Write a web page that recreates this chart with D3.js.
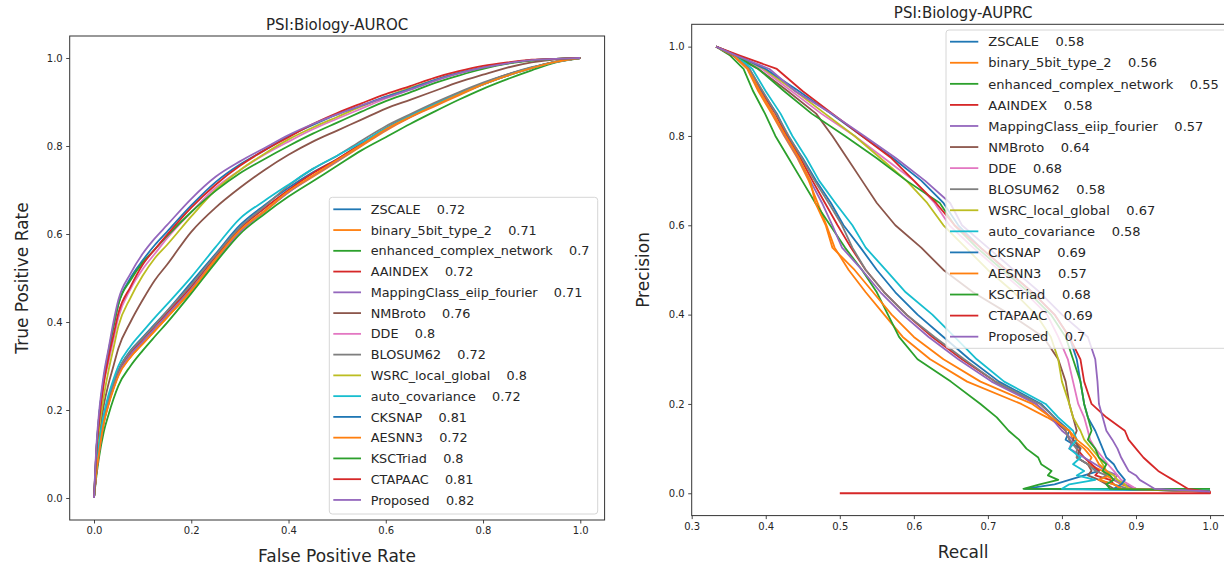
<!DOCTYPE html>
<head>
  <title>PSI:Biology ROC / PR</title>
  <meta charset="utf-8" />
  <script src="https://d3js.org/d3.v7.min.js"></script>
  <style>
    body { margin: 0; background: #fff; }
    text { font-family: "DejaVu Sans", sans-serif; fill: #262626; }
    .leg text { white-space: pre; }
  </style>
</head>
<body>
<script>
  // ---- legend entries ----
  const names = ["ZSCALE", "binary_5bit_type_2", "enhanced_complex_network", "AAINDEX",
    "MappingClass_eiip_fourier", "NMBroto", "DDE", "BLOSUM62", "WSRC_local_global",
    "auto_covariance", "CKSNAP", "AESNN3", "KSCTriad", "CTAPAAC", "Proposed"];
  const rocAuc = ["0.72", "0.71", "0.7", "0.72", "0.71", "0.76", "0.8", "0.72", "0.8",
    "0.72", "0.81", "0.72", "0.8", "0.81", "0.82"];
  const prAuc = ["0.58", "0.56", "0.55", "0.58", "0.57", "0.64", "0.68", "0.58", "0.67",
    "0.58", "0.69", "0.57", "0.68", "0.69", "0.7"];
  const colors = ["#1f77b4", "#ff7f0e", "#2ca02c", "#d62728", "#9467bd", "#8c564b", "#e377c2",
    "#7f7f7f", "#bcbd22", "#17becf", "#1f77b4", "#ff7f0e", "#2ca02c", "#d62728", "#9467bd"];

  // ---- ROC: true positive rate at each false positive rate ----
  const fpr = [0, 0.005, 0.01, 0.02, 0.03, 0.04, 0.05, 0.075, 0.1, 0.125, 0.15, 0.2, 0.25, 0.3,
    0.35, 0.4, 0.45, 0.5, 0.55, 0.6, 0.65, 0.7, 0.75, 0.8, 0.85, 0.9, 0.95, 1.0];
  const tprZSCALE = [0, .06, .11, .18, .225, .26, .29, .335, .365, .395, .425, .49, .555, .62, .665, .705, .74, .77, .805, .84, .87, .895, .92, .942, .962, .978, .992, 1];
  const tprBinary = [0, .06, .10, .17, .215, .25, .28, .32, .35, .38, .41, .47, .54, .605, .65, .695, .73, .765, .8, .835, .865, .89, .915, .94, .96, .977, .991, 1];
  const tprEnhanced = [0, .05, .09, .15, .19, .225, .255, .30, .335, .367, .398, .465, .535, .6, .645, .685, .72, .755, .79, .82, .85, .878, .905, .93, .952, .972, .99, 1];
  const tprAAINDEX = [0, .06, .105, .175, .22, .255, .285, .33, .36, .39, .42, .48, .548, .612, .658, .70, .738, .77, .805, .84, .868, .895, .92, .942, .962, .978, .992, 1];
  const tprMapping = [0, .06, .10, .17, .215, .25, .28, .325, .355, .385, .415, .475, .543, .605, .652, .695, .732, .766, .802, .837, .866, .892, .918, .94, .96, .977, .991, 1];
  const tprNMBroto = [0, .08, .13, .21, .26, .30, .34, .40, .45, .495, .53, .605, .66, .705, .745, .78, .81, .835, .86, .885, .905, .925, .945, .962, .978, .99, .997, 1];
  const tprDDE = [0, .10, .17, .26, .31, .36, .41, .475, .52, .555, .59, .65, .705, .745, .78, .81, .838, .862, .885, .908, .928, .948, .965, .978, .988, .995, .998, 1];
  const tprBLOSUM = [0, .065, .11, .18, .225, .26, .29, .333, .363, .393, .424, .485, .552, .615, .662, .71, .748, .778, .812, .845, .872, .898, .922, .944, .963, .979, .992, 1];
  const tprWSRC = [0, .09, .15, .23, .29, .34, .39, .455, .505, .545, .575, .64, .70, .745, .782, .815, .842, .866, .89, .912, .932, .95, .966, .978, .988, .995, .998, 1];
  const tprAutoCov = [0, .07, .12, .19, .235, .27, .30, .345, .378, .41, .44, .502, .57, .635, .675, .712, .748, .778, .808, .84, .868, .894, .918, .94, .96, .977, .991, 1];
  const tprCKSNAP = [0, .11, .18, .27, .33, .39, .44, .50, .54, .575, .605, .665, .718, .758, .79, .822, .848, .872, .892, .912, .93, .95, .966, .978, .988, .995, .998, 1];
  const tprAESNN3 = [0, .06, .10, .17, .212, .247, .277, .32, .35, .38, .41, .472, .543, .608, .652, .697, .733, .768, .802, .838, .866, .892, .917, .94, .96, .977, .991, 1];
  const tprKSCTriad = [0, .11, .18, .27, .335, .39, .44, .495, .535, .565, .595, .65, .698, .738, .77, .80, .828, .853, .878, .902, .922, .943, .96, .975, .987, .994, .998, 1];
  const tprCTAPAAC = [0, .11, .17, .26, .32, .37, .42, .48, .53, .565, .598, .66, .712, .755, .79, .82, .85, .875, .897, .918, .936, .955, .97, .982, .99, .996, .998, 1];
  const tprProposed = [0, .12, .19, .28, .34, .40, .45, .51, .555, .59, .62, .68, .73, .765, .795, .825, .85, .872, .892, .91, .928, .948, .965, .978, .988, .995, .998, 1];

  // ---- PR: recall reached at each precision level ----
  const precisionLevels = [1.0, 0.98, 0.95, 0.9, 0.85, 0.8, 0.75, 0.7, 0.65, 0.6, 0.55, 0.5, 0.45, 0.4,
    0.35, 0.3, 0.25, 0.2, 0.17, 0.14, 0.12, 0.1, 0.08, 0.065, 0.05, 0.04, 0.03, 0.02, 0.01];
  const recZSCALE = [.333, .358, .378, .395, .415, .43, .45, .468, .488, .505, .528, .55, .575, .605, .64, .675, .715, .772, .79, .81, .805, .825, .82, .835, .85, .83, .81, .79, .75];
  const recBinary = [.333, .356, .375, .39, .408, .425, .443, .458, .47, .482, .493, .512, .535, .56, .585, .622, .672, .745, .78, .81, .815, .83, .84, .835, .855, .86, .87, .88, .9];
  const recEnhanced = [.333, .352, .37, .383, .399, .413, .431, .449, .467, .487, .507, .53, .55, .565, .58, .605, .65, .69, .712, .728, .742, .752, .768, .772, .786, .781, .795, .77, .748];
  const recAAINDEX = [.333, .357, .377, .393, .413, .428, .447, .463, .48, .497, .515, .535, .56, .59, .625, .665, .71, .765, .785, .805, .81, .82, .83, .84, .85, .845, .865, .87, .88];
  const recMapping = [.333, .357, .376, .392, .41, .426, .444, .46, .476, .49, .503, .53, .555, .585, .62, .66, .705, .765, .785, .80, .815, .81, .83, .845, .86, .875, .87, .885, .9];
  const recNMBroto = [.333, .355, .39, .43, .468, .49, .51, .53, .55, .575, .61, .64, .68, .73, .775, .795, .805, .81, .815, .82, .815, .825, .82, .835, .84, .835, .85, .86, .87];
  const recDDE = [.333, .36, .395, .435, .475, .52, .56, .6, .628, .648, .68, .715, .75, .78, .795, .808, .815, .822, .83, .835, .838, .845, .855, .862, .87, .875, .88, .89, .9];
  const recBLOSUM = [.333, .358, .378, .396, .414, .431, .449, .466, .485, .503, .517, .535, .56, .59, .628, .668, .71, .77, .79, .805, .81, .82, .82, .835, .845, .86, .85, .87, .89];
  const recWSRC = [.333, .362, .398, .44, .48, .52, .555, .59, .618, .64, .67, .70, .735, .765, .785, .795, .80, .81, .815, .825, .83, .84, .85, .855, .86, .87, .875, .885, .89];
  const recAutoCov = [.333, .36, .382, .4, .42, .436, .455, .472, .494, .517, .535, .562, .589, .625, .655, .685, .722, .778, .795, .815, .82, .81, .825, .815, .83, .82, .845, .81, .80];
  const recCKSNAP = [.333, .362, .40, .445, .488, .53, .572, .61, .64, .66, .69, .725, .76, .79, .81, .82, .825, .83, .835, .845, .85, .855, .86, .87, .875, .88, .885, .88, .87];
  const recAESNN3 = [.333, .357, .376, .392, .41, .427, .445, .46, .467, .481, .49, .52, .545, .57, .6, .64, .69, .76, .785, .81, .82, .835, .845, .85, .86, .865, .85, .87, .88];
  const recKSCTriad = [.333, .36, .39, .425, .462, .507, .55, .59, .635, .655, .685, .72, .755, .785, .805, .815, .825, .83, .835, .84, .835, .845, .85, .86, .855, .865, .87, .86, .865];
  const recCTAPAAC = [.333, .365, .415, .45, .49, .53, .57, .60, .63, .655, .69, .725, .76, .79, .81, .825, .83, .84, .86, .885, .89, .9, .91, .92, .93, .94, .95, .96, .97];
  const recProposed = [.333, .36, .405, .44, .489, .533, .576, .615, .649, .665, .70, .735, .77, .80, .835, .845, .848, .85, .855, .86, .868, .875, .88, .885, .89, .9, .905, .915, .925];
  // precision of the flat tail each curve runs along to recall 1.0
  const prTail = [.006, .004, .01, .003, .004, .005, .004, .005, .005, .006, .004, .004, .006, .003, .004];
  // CTAPAAC also draws a zero-precision segment starting here
  const zeroLineStart = 0.5;

  const rocSeries = [tprZSCALE, tprBinary, tprEnhanced, tprAAINDEX, tprMapping, tprNMBroto, tprDDE,
    tprBLOSUM, tprWSRC, tprAutoCov, tprCKSNAP, tprAESNN3, tprKSCTriad, tprCTAPAAC, tprProposed];
  const prSeries = [recZSCALE, recBinary, recEnhanced, recAAINDEX, recMapping, recNMBroto, recDDE,
    recBLOSUM, recWSRC, recAutoCov, recCKSNAP, recAESNN3, recKSCTriad, recCTAPAAC, recProposed];

  const rocLines = rocSeries.map((t) => fpr.map((f, i) => [f, t[i]]));
  const prLines = prSeries.map((r, k) => {
    const pts = precisionLevels.map((p, i) => [r[i], p]);
    pts.push([1.0, prTail[k]]);
    if (names[k] === "CTAPAAC") pts.push([1.0, 0], [zeroLineStart, 0]);
    return pts;
  });

  const svg = d3.select("body").append("svg").attr("width", 1224).attr("height", 565);

  const panel = (cfg) => {
    const x = d3.scaleLinear().domain(cfg.xDomain).range(cfg.xRange);
    const y = d3.scaleLinear().domain([-0.05, 1.05]).range(cfg.yRange);
    const g = svg.append("g");
    const [x0, x1] = cfg.xRange;
    const [y1, y0] = cfg.yRange;

    g.append("clipPath").attr("id", cfg.id).append("rect")
      .attr("x", x0).attr("y", y0).attr("width", x1 - x0).attr("height", y1 - y0);

    const line = d3.line().x((d) => x(d[0])).y((d) => y(d[1])).curve(cfg.curve);
    g.append("g").attr("clip-path", `url(#${cfg.id})`)
      .selectAll("path").data(cfg.lines).join("path")
      .attr("d", line).attr("fill", "none")
      .attr("stroke", (d, i) => colors[i]).attr("stroke-width", 1.8)
      .attr("stroke-linejoin", "round");

    const fmt = d3.format(".1f");
    const gx = g.append("g").attr("transform", `translate(0,${y1})`)
      .call(d3.axisBottom(x).tickValues(cfg.xTicks).tickFormat(fmt).tickSize(3.5).tickPadding(3.5));
    const gy = g.append("g").attr("transform", `translate(${x0},0)`)
      .call(d3.axisLeft(y).tickValues([0, 0.2, 0.4, 0.6, 0.8, 1.0]).tickFormat(fmt).tickSize(3.5).tickPadding(3.5));
    [gx, gy].forEach((a) => {
      a.select(".domain").remove();
      a.selectAll("line").attr("stroke", "#333").attr("stroke-width", 0.9);
      a.selectAll("text").attr("font-size", 10).attr("font-family", "DejaVu Sans").attr("fill", "#262626");
    });

    g.append("rect").attr("x", x0).attr("y", y0).attr("width", x1 - x0).attr("height", y1 - y0)
      .attr("fill", "none").attr("stroke", "#333").attr("stroke-width", 1);

    g.append("text").attr("x", (x0 + x1) / 2).attr("y", cfg.titleY)
      .attr("text-anchor", "middle").attr("font-size", 15).text(cfg.title);
    g.append("text").attr("x", cfg.xLabelX).attr("y", cfg.xLabelY)
      .attr("text-anchor", "middle").attr("font-size", 17).text(cfg.xLabel);
    g.append("text").attr("transform", `translate(${cfg.yLabelX},${(y0 + y1) / 2}) rotate(-90)`)
      .attr("text-anchor", "middle").attr("font-size", 17).text(cfg.yLabel);

    // legend
    const L = cfg.legend;
    const lg = g.append("g").attr("class", "leg");
    lg.append("rect").attr("x", L.x).attr("y", L.y).attr("width", L.w).attr("height", L.h)
      .attr("rx", 3).attr("fill", "#fff").attr("fill-opacity", 0.8)
      .attr("stroke", "#d6d6d6").attr("stroke-width", 1);
    const rows = lg.selectAll("g.row").data(names).join("g").attr("class", "row")
      .attr("transform", (d, i) => `translate(0,${L.row0 + i * L.step})`);
    rows.append("line").attr("x1", L.hx0).attr("x2", L.hx1)
      .attr("stroke", (d, i) => colors[i]).attr("stroke-width", 1.8);
    rows.append("text").attr("x", L.tx).attr("dy", "0.36em").attr("font-size", L.fs)
      .attr("xml:space", "preserve")
      .text((d, i) => `${d}    ${cfg.scores[i]}`);
  };

  panel({
    id: "clipRoc", xDomain: [-0.05, 1.05], xRange: [69.7, 604.6], yRange: [520, 36],
    xTicks: [0, 0.2, 0.4, 0.6, 0.8, 1.0], lines: rocLines, scores: rocAuc, curve: d3.curveMonotoneX,
    title: "PSI:Biology-AUROC", titleY: 29.5,
    xLabel: "False Positive Rate", xLabelX: 337, xLabelY: 562,
    yLabel: "True Positive Rate", yLabelX: 28,
    legend: { x: 329.3, y: 197.3, w: 268.4, h: 316.7, row0: 209.3, step: 20.76,
      hx0: 333.3, hx1: 361, tx: 370.7, fs: 12.8 },
  });

  panel({
    id: "clipPr", xDomain: [0.3, 1.0333], xRange: [691.7, 1234.7], yRange: [515.6, 24.3],
    xTicks: [0.3, 0.4, 0.5, 0.6, 0.7, 0.8, 0.9, 1.0], lines: prLines, scores: prAuc, curve: d3.curveLinear,
    title: "PSI:Biology-AUPRC", titleY: 18,
    xLabel: "Recall", xLabelX: 963, xLabelY: 558,
    yLabel: "Precision", yLabelX: 649,
    legend: { x: 946, y: 30, w: 300, h: 318.3, row0: 41.7, step: 21.07,
      hx0: 950, hx1: 978.3, tx: 988.3, fs: 13 },
  });
</script>
</body>
